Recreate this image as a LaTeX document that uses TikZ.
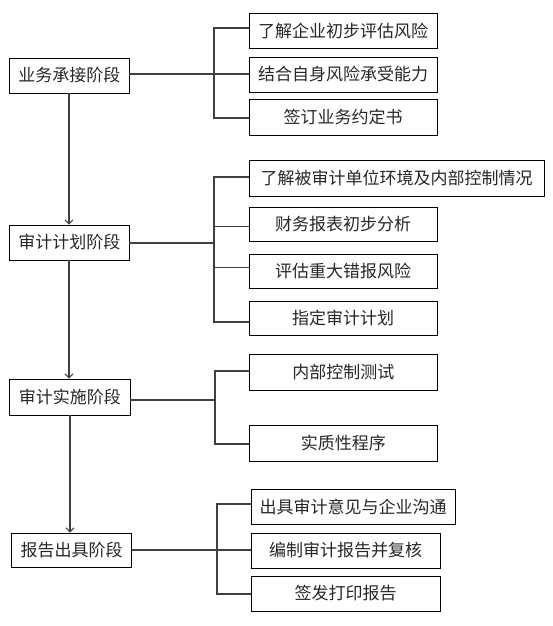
\documentclass[tikz,border=0pt]{standalone}
\usepackage{fontspec}
\newfontfamily\cjk{Noto Sans CJK SC}
\usetikzlibrary{arrows.meta}
\begin{document}
\begin{tikzpicture}[x=1pt,y=-1pt,
  box/.style={draw=black,line width=0.9pt,inner sep=0pt,minimum height=35pt,
    font=\cjk\fontsize{17}{20}\selectfont,text=black!85},
  conn/.style={draw=black!75,line width=1.2pt},
  arr/.style={conn,-{Straight Barb[length=4pt,width=8pt,line width=1pt]}}]
\useasboundingbox (0,0) rectangle (553,626);
% left stage boxes
\node[box,minimum width=119.5pt] (s1) at (69.25,75.5) {业务承接阶段};
\node[box,minimum width=119.5pt] (s2) at (69.25,242.5) {审计计划阶段};
\node[box,minimum width=120.5pt,minimum height=36pt] (s3) at (69.75,397) {审计实施阶段};
\node[box,minimum width=119.7pt,minimum height=34pt] (s4) at (71.5,550) {报告出具阶段};
% group 1
\node[box,minimum width=188pt] (a1) at (343,30.5) {了解企业初步评估风险};
\node[box,minimum width=188pt] (a2) at (343,74.5) {结合自身风险承受能力};
\node[box,minimum width=188pt,minimum height=36pt] (a3) at (343,117) {签订业务约定书};
% group 2
\node[box,minimum width=295pt,minimum height=36pt] (b1) at (396.5,178) {了解被审计单位环境及内部控制情况};
\node[box,minimum width=188pt,minimum height=34pt] (b2) at (343,224) {财务报表初步分析};
\node[box,minimum width=188pt,minimum height=34pt] (b3) at (343,271) {评估重大错报风险};
\node[box,minimum width=188pt,minimum height=34pt] (b4) at (343,318) {指定审计计划};
% group 3
\node[box,minimum width=188.5pt,minimum height=36pt] (c1) at (343.25,372) {内部控制测试};
\node[box,minimum width=188.5pt,minimum height=36pt] (c2) at (343.25,443) {实质性程序};
% group 4
\node[box,minimum width=204pt] (d1) at (353,506.5) {出具审计意见与企业沟通};
\node[box,minimum width=189pt] (d2) at (345.5,550.5) {编制审计报告并复核};
\node[box,minimum width=189pt] (d3) at (345.5,593.5) {签发打印报告};
% vertical arrows
\coordinate (v1) at (69,0);
\coordinate (v3) at (70,0);
\draw[arr] (s1.south -| v1) -- (s2.north -| v1);
\draw[arr] (s2.south -| v1) -- (s3.north -| v1);
\draw[arr] (s3.south -| v3) -- (s4.north -| v3);
% bracket 1
\coordinate (k1t) at (214,28);
\coordinate (k1m) at (214,74);
\coordinate (k1b) at (214,118);
\draw[conn] (s1.east |- k1m) -- (a2.west |- k1m);
\draw[conn] (a1.west |- k1t) -- (k1t) -- (k1b) -- (a3.west |- k1b);
% bracket 2
\coordinate (k2t) at (214,177);
\coordinate (k2a) at (214,226.5);
\coordinate (k2m) at (214,243);
\coordinate (k2c) at (214,267.5);
\coordinate (k2b) at (214,322);
\draw[conn] (s2.east |- k2m) -- (k2m);
\draw[conn] (b1.west |- k2t) -- (k2t) -- (k2b) -- (b4.west |- k2b);
\draw[conn] (k2a) -- (b2.west |- k2a);
\draw[conn] (k2c) -- (b3.west |- k2c);
% bracket 3
\coordinate (k3t) at (215,371);
\coordinate (k3m) at (215,400);
\coordinate (k3b) at (215,444);
\draw[conn] (s3.east |- k3m) -- (k3m);
\draw[conn] (c1.west |- k3t) -- (k3t) -- (k3b) -- (c2.west |- k3b);
% bracket 4
\coordinate (k4t) at (217,504);
\coordinate (k4m) at (217,550);
\coordinate (k4b) at (217,594);
\draw[conn] (s4.east |- k4m) -- (d2.west |- k4m);
\draw[conn] (d1.west |- k4t) -- (k4t) -- (k4b) -- (d3.west |- k4b);
\end{tikzpicture}
\end{document}
